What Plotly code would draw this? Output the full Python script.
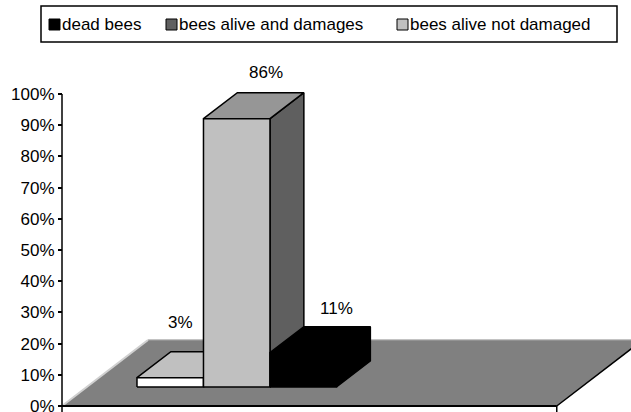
import plotly.graph_objects as go

# --- data -------------------------------------------------------------
series = ["dead bees", "bees alive and damages", "bees alive not damaged"]
legend_colors = ["#000000", "#606060", "#c0c0c0"]

bar_names = ["bees alive and damages", "bees alive not damaged", "dead bees"]
bar_values = [3, 86, 11]          # percent
bar_labels = ["3%", "86%", "11%"]

tick_vals = list(range(0, 101, 10))
tick_text = [f"{v}%" for v in tick_vals]

# --- 3-D look (styles / geometry) ------------------------------------
face_colors = [  # front, top, side
    ("#ffffff", "#c0c0c0", "#969696"),
    ("#c0c0c0", "#969696", "#5f5f5f"),
    ("#000000", "#000000", "#000000"),
]
label_shift = [(-24, 29), (-5, 20), (-1, 18)]  # px offsets of value labels

W, H = 631, 412
ML, MT = 30, 50
PX_X = 66.5          # pixels per x unit (one bar width)
PX_Y = 3.12          # pixels per percent
AXIS_PX = 62         # pixel column of the value axis
PLOT_W = W - ML
PLOT_H = H - MT

DX, DY = 86 / PX_X, 66 / PX_Y   # full floor depth in axis units
FLOOR_W = 7.44
F0, DD = 0.288, 0.394          # bar front offset and bar depth (fraction of floor depth)
X0 = 0.755                     # first bar left edge at depth 0

fig = go.Figure()


def poly(xs, ys, fill, line="black", lw=1.5):
    fig.add_trace(go.Scatter(
        x=xs + [xs[0]], y=ys + [ys[0]], mode="lines", fill="toself",
        fillcolor=fill, line=dict(color=line, width=lw),
        hoverinfo="skip", showlegend=False))


def seg(xs, ys, color, lw):
    fig.add_trace(go.Scatter(
        x=xs, y=ys, mode="lines", line=dict(color=color, width=lw),
        hoverinfo="skip", showlegend=False))


# floor
poly([0, FLOOR_W, FLOOR_W + DX, DX], [0, 0, DY, DY], "#808080", line="#808080", lw=0.5)
seg([DX, FLOOR_W + DX], [DY, DY], "#a6a6a6", 1)
seg([0, DX], [0, DY], "#d0d0d0", 2)
seg([FLOOR_W, FLOOR_W + DX], [0, DY], "black", 1.5)

# bars, left to right so later faces cover earlier sides
base = F0 * DY
for i, v in enumerate(bar_values):
    xl = X0 + i + F0 * DX
    xr = xl + 1
    ddx, ddy = DD * DX, DD * DY
    front, top, side = face_colors[i]
    poly([xr, xr + ddx, xr + ddx, xr], [base, base + ddy, base + v + ddy, base + v], side)
    poly([xl, xr, xr + ddx, xl + ddx], [base + v, base + v, base + v + ddy, base + v + ddy], top)
    poly([xl, xr, xr, xl], [base, base, base + v, base + v], front)
    sx, sy = label_shift[i]
    fig.add_annotation(x=xl + 0.5 + ddx, y=base + v + ddy, text=bar_labels[i],
                       showarrow=False, xshift=sx, yshift=sy,
                       font=dict(size=17, color="black"))

# axis lines
seg([0, 0], [-2, 100], "black", 1.5)
seg([0, FLOOR_W], [0, 0], "black", 2)
seg([FLOOR_W, FLOOR_W], [0, -2], "black", 1.5)

# legend drawn in page pixels
def px_x(p):
    return (p - ML) / PLOT_W


def px_y(p):
    return (H - p) / PLOT_H


fig.add_shape(type="rect", xref="paper", yref="paper",
              x0=px_x(41), x1=px_x(617), y0=px_y(42), y1=px_y(6),
              line=dict(color="black", width=1.5), fillcolor="white")
sq_x = [49, 166, 397]
for name, col, sx in zip(series, legend_colors, sq_x):
    fig.add_shape(type="rect", xref="paper", yref="paper",
                  x0=px_x(sx), x1=px_x(sx + 11), y0=px_y(30), y1=px_y(19),
                  line=dict(color="black", width=1), fillcolor=col)
    fig.add_annotation(xref="paper", yref="paper", x=px_x(sx + 11), y=px_y(24),
                       text=name, showarrow=False, xanchor="left", yanchor="middle",
                       font=dict(size=17, color="black"))

x_lo = -(AXIS_PX - ML) / PX_X
x_hi = (W - AXIS_PX) / PX_X
y_lo = -(H - 406) / PX_Y
y_hi = y_lo + PLOT_H / PX_Y

fig.update_layout(
    width=W, height=H,
    margin=dict(l=ML, r=0, t=MT, b=0, autoexpand=False),
    paper_bgcolor="white", plot_bgcolor="white",
    font=dict(family="Liberation Sans, Arial, sans-serif", size=17, color="black"),
    showlegend=False,
    xaxis=dict(range=[x_lo, x_hi], visible=False, fixedrange=True, automargin=False),
    yaxis=dict(range=[y_lo, y_hi], tickvals=tick_vals, ticktext=tick_text,
               ticks="outside", ticklen=4, tickwidth=1.5, tickcolor="black",
               ticklabeloverflow="allow", automargin=False,
               showgrid=False, zeroline=False, showline=False,
               anchor="free", position=(AXIS_PX - ML) / PLOT_W,
               fixedrange=True),
)

fig.write_html("out.html")
